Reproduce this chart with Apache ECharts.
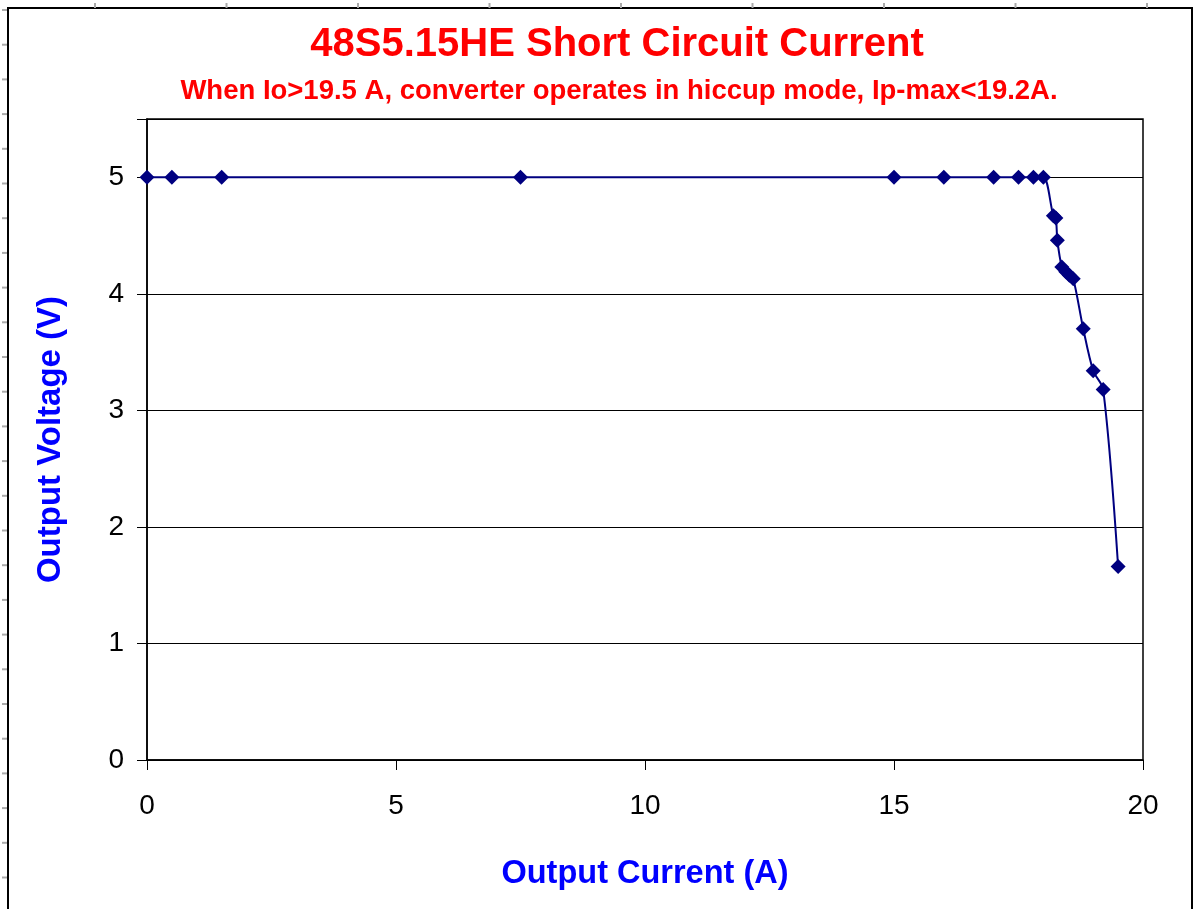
<!DOCTYPE html>
<html>
<head>
<meta charset="utf-8">
<script src="https://cdn.jsdelivr.net/npm/echarts@6/dist/echarts.min.js"></script>
<style>
  html, body { margin: 0; padding: 0; background: #fff; }
  #chart { width: 1194px; height: 909px; }
</style>
</head>
<body>
<div id="chart"></div>
<script>
// output current (A) and output voltage (V)
const currentA = [0, 0.5, 1.5, 7.5, 15, 16, 17, 17.5, 17.8, 18, 18.2, 18.25, 18.28, 18.37, 18.45, 18.52, 18.6, 18.8, 19.0, 19.2, 19.5];
const voltageV = [5.0, 5.0, 5.0, 5.0, 5.0, 5.0, 5.0, 5.0, 5.0, 5.0, 4.67, 4.65, 4.46, 4.23, 4.19, 4.16, 4.13, 3.70, 3.34, 3.18, 1.66];

const titleText = "48S5.15HE Short Circuit Current";
const subText = "When Io>19.5 A, converter operates in hiccup mode, Ip-max<19.2A.";
const xName = "Output Current (A)";
const yName = "Output Voltage (V)";

const font = "Arial, 'Liberation Sans', sans-serif";

// spreadsheet frame + the little grey ruler marks around it
const deco = [{
  type: "rect",
  shape: { x: 8, y: 8, width: 1184, height: 1000 },
  style: { fill: "none", stroke: "#000", lineWidth: 2 },
}];
for (let x = 95; x < 1194; x += 131.5) {
  deco.push({ type: "line", shape: { x1: x, y1: 3, x2: x, y2: 8 }, style: { stroke: "#aaa", lineWidth: 2 } });
}
for (let y = 10; y < 909; y += 34.7) {
  deco.push({ type: "line", shape: { x1: 2, y1: y, x2: 7, y2: y }, style: { stroke: "#aaa", lineWidth: 2 } });
}

const chart = echarts.init(document.getElementById("chart"));
chart.setOption({
  animation: false,
  backgroundColor: "#fff",
  textStyle: { fontFamily: font },
  title: [
    {
      text: titleText,
      left: 612,
      textAlign: "center",
      top: 20,
      textStyle: { color: "#ff0000", fontSize: 40, fontWeight: "bold", fontFamily: font },
    },
    {
      text: subText,
      left: 614,
      textAlign: "center",
      top: 72,
      textStyle: { color: "#ff0000", fontSize: 27.5, fontWeight: "bold", fontFamily: font },
    },
  ],
  grid: {
    left: 147,
    right: 51,
    top: 119,
    bottom: 149,
    show: true,
    borderColor: "#000",
    borderWidth: 1.5,
  },
  xAxis: {
    type: "value",
    min: 0,
    max: 20,
    interval: 5,
    name: xName,
    nameLocation: "middle",
    nameGap: 98,
    nameTextStyle: { color: "#0000ff", fontSize: 32.5, fontWeight: "bold", fontFamily: font },
    axisLine: { lineStyle: { color: "#000", width: 1.5 } },
    axisTick: { show: true, length: 10, lineStyle: { color: "#000" } },
    axisLabel: { color: "#000", fontSize: 28, margin: 32, fontFamily: font },
    splitLine: { show: false },
  },
  yAxis: {
    type: "value",
    min: 0,
    max: 5.5,
    interval: 1,
    name: yName,
    nameLocation: "middle",
    nameGap: 80,
    nameTextStyle: { color: "#0000ff", fontSize: 33, fontWeight: "bold", fontFamily: font },
    axisLine: { show: true, lineStyle: { color: "#000", width: 1.5 } },
    axisTick: { show: true, length: 10, lineStyle: { color: "#000" } },
    axisLabel: {
      color: "#000",
      fontSize: 28,
      margin: 23,
      fontFamily: font,
      formatter: (v) => (v % 1 === 0 ? String(v) : ""),
    },
    splitLine: { show: true, lineStyle: { color: "#000", width: 1 } },
  },
  series: [
    {
      type: "line",
      data: currentA.map((x, i) => [x, voltageV[i]]),
      smooth: 0.3,
      symbol: "diamond",
      symbolSize: 15,
      lineStyle: { color: "#000080", width: 2 },
      itemStyle: { color: "#000080" },
    },
  ],
  graphic: deco,
});
</script>
</body>
</html>
